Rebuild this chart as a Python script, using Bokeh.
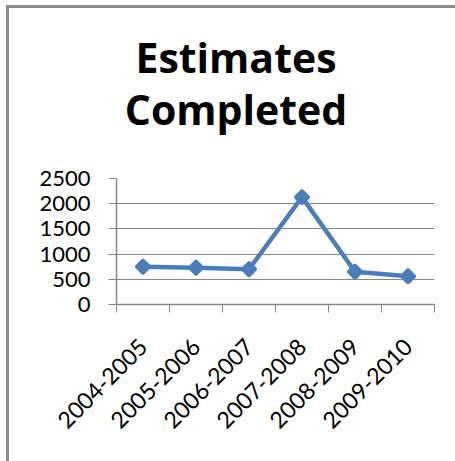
import math
from bokeh.plotting import figure
from bokeh.layouts import column
from bokeh.models import Range1d, FixedTicker, Div, ColumnDataSource
from bokeh.embed import file_html
from bokeh.resources import INLINE

# data
categories = ["2004-2005", "2005-2006", "2006-2007", "2007-2008", "2008-2009", "2009-2010"]
values = [750, 730, 700, 2130, 650, 560]
y_ticks = [0, 500, 1000, 1500, 2000, 2500]
title_lines = ["Estimates", "Completed"]

xs = [i + 0.5 for i in range(len(categories))]
src = ColumnDataSource(dict(x=xs, y=values, cat=categories))

GRAY = "#868686"
BLUE = "#4A7EBB"

TITLE_H = 145
title = Div(text="<br>".join(title_lines), width=446, height=TITLE_H,
            styles={"font-family": "'Open Sans'", "font-weight": "bold", "font-size": "41px",
                    "line-height": "52px", "text-align": "center", "color": "#000000",
                    "padding-top": "23px", "padding-left": "8px", "box-sizing": "border-box",
                    "margin": "0", "overflow": "visible"})

p = figure(width=446, height=453 - TITLE_H, output_backend="svg", toolbar_location=None,
           x_range=Range1d(0, len(categories)), y_range=Range1d(0, 2500),
           min_border_left=107, min_border_right=21, min_border_top=170 - TITLE_H,
           min_border_bottom=157)
p.outline_line_color = None
p.xgrid.visible = False
p.ygrid.grid_line_color = GRAY
p.ygrid.grid_line_width = 1
p.ygrid.ticker = FixedTicker(ticks=y_ticks)

p.line("x", "y", source=src, line_color=BLUE, line_width=4.5)
p.scatter("x", "y", source=src, marker="square", angle=math.pi / 4, size=10,
          fill_color=BLUE, line_color=BLUE, line_width=2.5)

# y axis
ya = p.yaxis[0]
ya.ticker = FixedTicker(ticks=y_ticks)
ya.axis_line_color = GRAY
ya.axis_line_width = 1.5
ya.major_tick_line_color = GRAY
ya.major_tick_out = 8
ya.major_tick_in = 0
ya.minor_tick_line_color = None
ya.major_label_text_font = "Lato"
ya.major_label_text_font_size = "22px"
ya.major_label_text_color = "#000000"
ya.major_label_standoff = 18

# x axis
xa = p.xaxis[0]
xa.ticker = FixedTicker(ticks=xs, minor_ticks=list(range(len(categories) + 1)))
xa.major_label_overrides = {x: c for x, c in zip(xs, categories)}
xa.axis_line_color = GRAY
xa.axis_line_width = 1.5
xa.major_tick_line_color = None
xa.major_tick_out = 0
xa.major_tick_in = 0
xa.minor_tick_line_color = GRAY
xa.minor_tick_out = 8
xa.minor_tick_in = 0
xa.major_label_orientation = math.pi / 4
xa.major_label_text_font = "Lato"
xa.major_label_text_font_size = "23px"
xa.major_label_text_color = "#000000"
xa.major_label_standoff = 30

layout = column(title, p, spacing=0,
                styles={"border-left": "3px solid #8c8c8c", "border-top": "3px solid #8c8c8c",
                        "margin-left": "6px", "margin-top": "5px"})

open("out.html", "w").write(file_html(layout, INLINE))
